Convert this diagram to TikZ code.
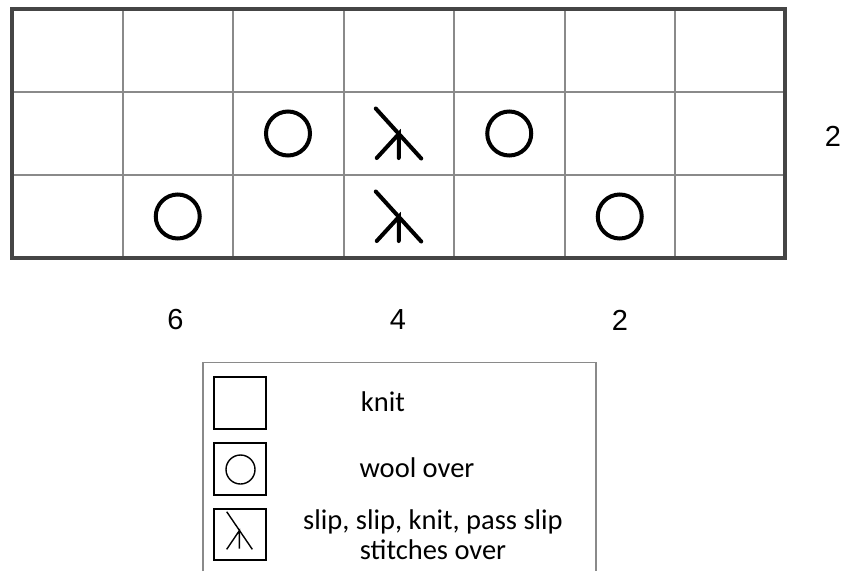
\documentclass[tikz,border=0pt]{standalone}
\usepackage{fontspec}
\setmainfont{Carlito}
\newfontfamily\numfont{Liberation Sans}
\definecolor{gridgray}{HTML}{8A8A8A}
\definecolor{framegray}{HTML}{454545}
\tikzset{
  gridline/.style={draw=gridgray, line width=2pt},
  frameline/.style={draw=framegray, line width=3.2pt},
  symline/.style={draw=black, line width=4pt, line cap=round},
  legsym/.style={draw=black, line width=1.4pt},
  numlabel/.style={font=\numfont\fontsize{29}{32}\selectfont, inner sep=0pt},
  legtext/.style={font=\fontsize{28.5}{30}\selectfont, inner sep=0pt, align=center},
  pics/yo/.style={code={\draw[symline] (0,0) circle (22);}},
  pics/dec/.style={code={
    \draw[symline] (-23,-25) -- (22.5,25);
    \draw[symline] (-22,24.5) -- (0,0.5) -- (0,24.5);
  }}
}
\begin{document}
\begin{tikzpicture}[x=1pt,y=-1pt]
\useasboundingbox (0,0) rectangle (848,571);
% grid
\foreach \xx in {122.5,233,343.5,454,564.5,675} \draw[gridline] (\xx,9) -- (\xx,258);
\foreach \yy in {92,175} \draw[gridline] (12,\yy) -- (785,\yy);
\draw[frameline] (12,9) rectangle (785,258);
% symbols
\pic at (288,133.5) {yo};
\pic at (398.75,133.5) {dec};
\pic at (509.25,133.5) {yo};
\pic at (177.75,216.5) {yo};
\pic at (398.75,216.5) {dec};
\pic at (619.75,216.5) {yo};
% labels
\node[numlabel] (r2) at (833,136.5) {2};
\node[numlabel] (c6) at (175.5,320) {6};
\node[numlabel] (c4) at (398,320) {4};
\node[numlabel] (c2) at (620,320) {2};
% legend frame
\draw[draw=gridgray, line width=1.3pt] (203,571) -- (203,362.5) -- (596,362.5) -- (596,571);
\draw[legsym] (214,377) rectangle (266,429);
\draw[legsym] (214,443) rectangle (266,495);
\draw[legsym] (214,509) rectangle (266,560);
\draw[legsym] (240.5,469.5) circle (14.5);
\draw[legsym] (226.7,511.7) -- (252.3,549.3);
\draw[legsym] (226.7,549.3) -- (239.3,530.7) -- (239.3,548.5);
\node[legtext] (k) at (383,402) {knit};
\node[legtext] (w) at (417,468) {wool over};
\node[legtext] (s) at (433,535) {slip, slip, knit, pass slip\\stitches over};
\end{tikzpicture}
\end{document}
